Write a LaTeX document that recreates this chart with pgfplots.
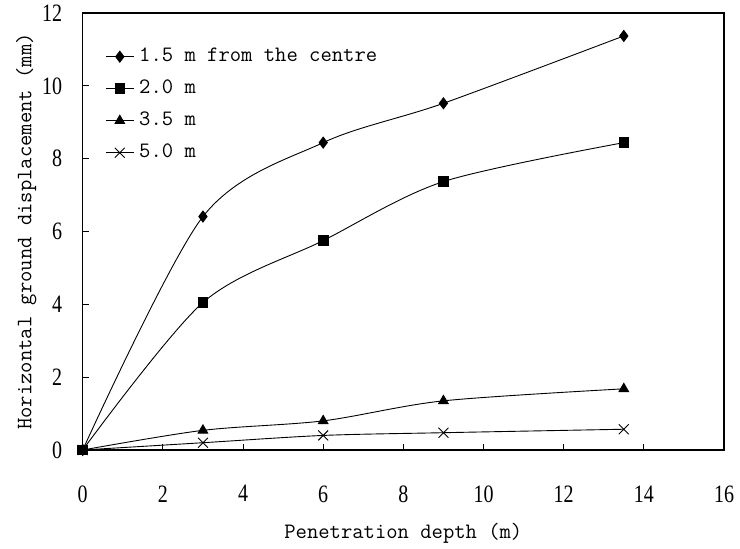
\documentclass[border=0pt]{standalone}
\usepackage{fontspec}
\setmainfont{Liberation Serif}
\newfontfamily\tickfont[FakeStretch=0.8]{Liberation Serif}
\usepackage{pgfplots}
\pgfplotsset{compat=1.18}

\begin{document}
\begin{tikzpicture}
\useasboundingbox (-82.7bp,-99bp) rectangle (657.3bp,450bp);
\begin{axis}[
    scale only axis,
    width=641.3bp, height=437bp,
    xmin=0, xmax=16, ymin=0, ymax=12,
    xtick={0,2,...,16}, ytick={0,2,...,12},
    xtick pos=bottom, ytick pos=left,
    tick align=inside,
    major tick length=6bp,
    axis line style={line width=1.3bp},
    every tick/.style={black, line width=0.9bp},
    /pgf/number format/assume math mode=true,
    tick label style={font=\tickfont\fontsize{25bp}{28bp}\selectfont},
    xticklabel style={yshift=-32bp},
    yticklabel style={xshift=-17bp},
    label style={font=\ttfamily\fontsize{22bp}{26bp}\selectfont},
    xlabel={Penetration depth (m)},
    ylabel={Horizontal ground displacement (mm)},
    x label style={at={(axis description cs:0.5,-0.19)}, anchor=center},
    y label style={at={(axis description cs:-0.088,0.5)}, anchor=center},
    legend cell align=left,
    legend style={draw=none, fill=none, at={(axis description cs:0.035,0.921)},
        anchor=north west, inner sep=0pt, row sep=14bp,
        font=\ttfamily\fontsize{22bp}{26bp}\selectfont,
        nodes={inner sep=0pt, text height=14bp, text depth=4bp},
        /tikz/every odd column/.append style={column sep=5bp}},
    legend image code/.code={
        \draw[mark repeat=2, mark phase=2, #1] plot coordinates {(0bp,0bp) (14bp,0bp) (28bp,0bp)};},
    every axis plot/.append style={black, line width=0.9bp, smooth},
]
\addplot[mark=diamond*, mark size=5.5bp, mark options={solid}] coordinates {
    (0,0) (3,6.41) (6,8.44) (9,9.52) (13.5,11.37)};
\addplot[mark=square*, mark size=4.8bp, mark options={solid}] coordinates {
    (0,0) (3,4.05) (6,5.75) (9,7.37) (13.5,8.44)};
\addplot[mark=triangle*, mark size=5.5bp, mark options={solid}] coordinates {
    (0,0) (3,0.54) (6,0.8) (9,1.35) (13.5,1.68)};
\addplot[mark=x, mark size=7bp, mark options={solid}] coordinates {
    (0,0) (3,0.2) (6,0.4) (9,0.475) (13.5,0.57)};
\legend{1.5 m from the centre, 2.0 m, 3.5 m, 5.0 m}
\end{axis}
\end{tikzpicture}
\end{document}
